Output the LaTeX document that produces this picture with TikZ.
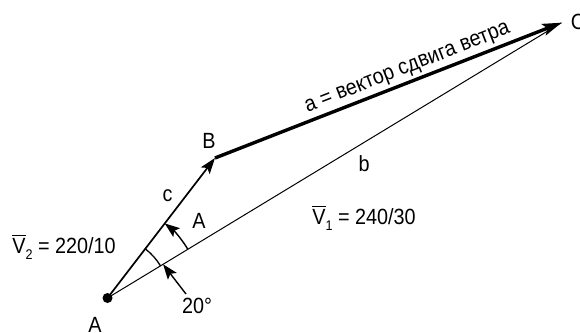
\documentclass[tikz,border=0pt]{standalone}
\usepackage{fontspec}
\setmainfont{Liberation Sans}[FakeStretch=0.9]
\usetikzlibrary{arrows.meta,calc}
\newcommand{\ovlV}{\leavevmode\vbox{\hrule height 1.4pt\kern 1.8pt\hbox{V}}}
\newcommand{\subsc}[1]{\raisebox{-6pt}{\fontsize{14}{14}\selectfont #1}}
\begin{document}
\begin{tikzpicture}[x=1pt,y=1pt,
  lbl/.style={inner sep=0pt,font=\fontsize{22}{26}\selectfont},
  bigarrow/.style={-{Stealth[length=19pt,width=12pt,inset=4pt]}},
  midarrow/.style={-{Stealth[length=16pt,width=11pt,inset=3.5pt]}},
  smallarrow/.style={-{Stealth[length=15pt,width=11pt,inset=3pt]}}]
\useasboundingbox (0,0) rectangle (580,332);
\coordinate (A) at (107.5,34);
\coordinate (B) at (215,174);
\coordinate (C) at (561.5,309.3);
% vectors
\draw[line width=1pt] (A) -- (C);
\draw[line width=1.7pt,midarrow] (A) -- (B);
\draw[line width=3.4pt,bigarrow] (B) -- (C);
\fill (A) circle (5pt);
% angle marks
\coordinate (arcS) at ($(A)+(31.2:62)$);
\draw[line width=1.3pt] (arcS) arc[start angle=31.2,end angle=52.5,radius=62pt];
\coordinate (arcA) at ($(A)+(31.2:94)$);
\draw[line width=1.4pt,smallarrow] (arcA) arc[start angle=31.2,end angle=52.5,radius=94pt];
\coordinate (ptr) at (186,38);
\coordinate (ptrTip) at ($(A)+(31.2:65)$);
\draw[line width=1.4pt,smallarrow] (ptr) -- (ptrTip);
% labels
\node[lbl] (lB) at (209,191) {B};
\node[lbl] (lC) at (578,310) {C};
\node[lbl] (lb) at (364,168) {b};
\node[lbl] (lc) at (167.5,136) {c};
\node[lbl] (lAang) at (199,111) {A};
\node[lbl] (l20) at (197,26) {20°};
\node[lbl] (lA) at (95,7) {A};
\node[lbl] (lV1) at (364,114) {\ovlV\subsc{1} = 240/30};
\node[lbl] (lV2) at (64,85) {\ovlV\subsc{2} = 220/10};
\node[lbl,rotate=21.3] (la) at (408,263) {a = вектор сдвига ветра};
\end{tikzpicture}
\end{document}
